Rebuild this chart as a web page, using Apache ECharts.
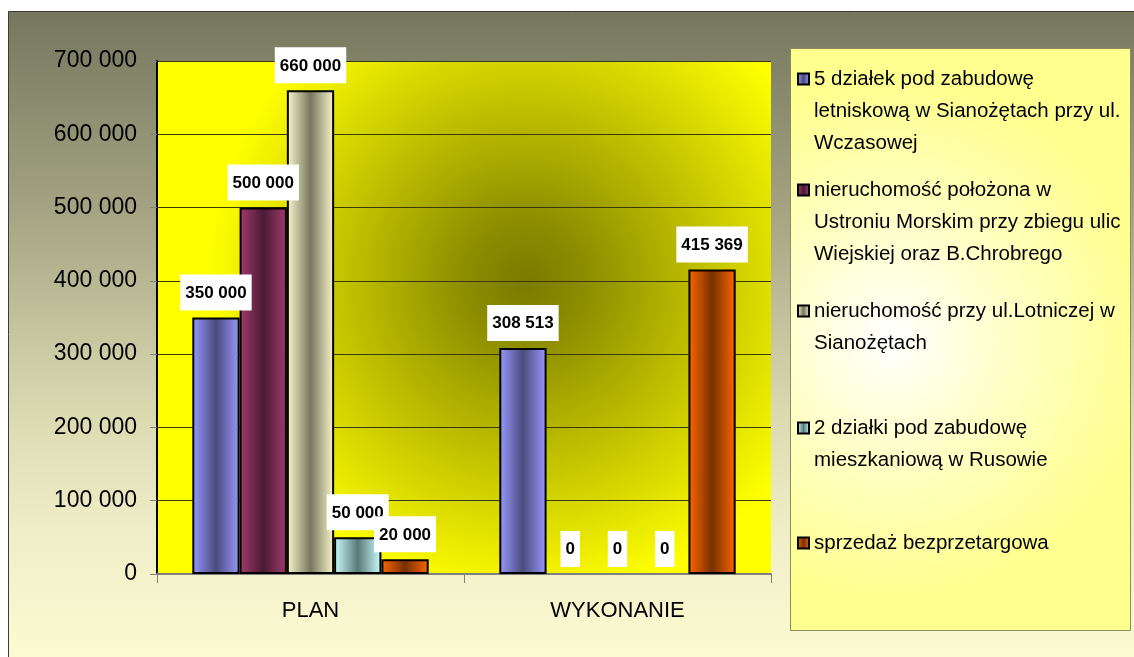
<!DOCTYPE html>
<html>
<head>
<meta charset="utf-8">
<script src="https://cdn.jsdelivr.net/npm/echarts@6/dist/echarts.min.js"></script>
<style>
html,body{margin:0;padding:0;background:#fff;}
#c{width:1134px;height:657px;}
</style>
</head>
<body>
<div id="c"></div>
<script>
// ---- data ----
const categories = ['PLAN', 'WYKONANIE'];
const seriesNames = [
  ['5 działek pod zabudowę', 'letniskową w Sianożętach przy ul.', 'Wczasowej'],
  ['nieruchomość położona w', 'Ustroniu Morskim przy zbiegu ulic', 'Wiejskiej oraz B.Chrobrego'],
  ['nieruchomość przy ul.Lotniczej w', 'Sianożętach'],
  ['2 działki pod zabudowę', 'mieszkaniową w Rusowie'],
  ['sprzedaż bezprzetargowa']
];
const valuesDzialki5 = [350000, 308513];
const valuesUstronie = [500000, 0];
const valuesLotnicza = [660000, 0];
const valuesRusowo = [50000, 0];
const valuesBezprzetargowa = [20000, 415369];
const yTicks = [0, 100000, 200000, 300000, 400000, 500000, 600000, 700000];

// ---- style ----
const FONT = '"Liberation Sans", Arial, sans-serif';
const lightC = ['#9999ff', '#a33a6e', '#fbf8cc', '#ccffff', '#ff6600'];
const darkC  = ['#4b4b7d', '#4a1a35', '#77775f', '#5a7a7a', '#783000'];
const allValues = [valuesDzialki5, valuesUstronie, valuesLotnicza, valuesRusowo, valuesBezprzetargowa];
const legendCenters = [79, 190, 311, 428, 543];
const LH = 32;

function fmt(v) { return String(v).replace(/\B(?=(\d{3})+(?!\d))/g, ' '); }

const series = allValues.map((vals, i) => ({
  name: seriesNames[i].join('\n'),
  type: 'bar',
  data: vals.map(v => v === 0 ? {value: v, itemStyle: {borderWidth: 0}} : v),
  barGap: '0%',
  barCategoryGap: '23%',
  itemStyle: {
    color: {
      type: 'linear', x: 0, y: 0, x2: 1, y2: 0,
      colorStops: [
        {offset: 0, color: lightC[i]},
        {offset: 0.5, color: darkC[i]},
        {offset: 1, color: lightC[i]}
      ]
    },
    borderColor: '#000',
    borderWidth: 2
  },
  label: {
    show: true,
    position: 'top',
    distance: 7,
    formatter: p => fmt(p.value),
    backgroundColor: '#fff',
    padding: [10, 5, 9, 5],
    color: '#000',
    fontFamily: FONT,
    fontWeight: 'bold',
    fontSize: 17
  }
}));

const legends = seriesNames.map((lines, i) => ({
  data: [lines.join('\n')],
  left: 797,
  top: legendCenters[i] - (2 * lines.length - 1) * LH / 2,
  padding: 0,
  orient: 'vertical',
  itemWidth: 11,
  itemHeight: 11,
  icon: 'rect',
  selectedMode: false,
  formatter: name => ' \n'.repeat(lines.length - 1) + name,
  textStyle: {
    fontFamily: FONT,
    fontSize: 20.5,
    lineHeight: LH,
    color: '#000'
  }
}));

const chart = echarts.init(document.getElementById('c'), null, {renderer: 'canvas'});
chart.setOption({
  animation: false,
  graphic: [
    {
      type: 'rect', z: -10, silent: true,
      shape: {x: 8.5, y: 11.5, width: 1130, height: 660},
      style: {
        fill: {type: 'linear', x: 0, y: 0, x2: 0, y2: 1, colorStops: [
          {offset: 0, color: '#76765e'},
          {offset: 0.29, color: '#a2a282'},
          {offset: 0.6, color: '#d9d9b0'},
          {offset: 0.78, color: '#efedc6'},
          {offset: 0.95, color: '#fbf9d0'},
          {offset: 1, color: '#fdfbd3'}
        ]},
        stroke: '#3c3c30', lineWidth: 1
      }
    },
    {
      type: 'rect', z: -5, silent: true,
      shape: {x: 790.5, y: 48.5, width: 340, height: 582},
      style: {
        fill: {type: 'radial', x: 0.3, y: 0.5, r: 0.75, colorStops: [
          {offset: 0, color: '#ffffff'},
          {offset: 0.45, color: '#ffffc8'},
          {offset: 1, color: '#ffff90'}
        ]},
        stroke: '#8c8c5a', lineWidth: 1
      }
    }
  ],
  grid: {
    left: 157, right: 363, top: 61, bottom: 83,
    show: true,
    borderWidth: 0,
    backgroundColor: {type: 'radial', x: 0.6, y: 0.43, r: 0.62, colorStops: [
      {offset: 0, color: '#7a7a00'},
      {offset: 0.2, color: '#8e8e00'},
      {offset: 1, color: '#ffff00'}
    ]}
  },
  legend: legends,
  xAxis: {
    type: 'category',
    data: categories,
    axisLine: {lineStyle: {color: '#808080', width: 2}},
    axisTick: {show: true, length: 9, lineStyle: {color: '#808080'}},
    axisLabel: {fontFamily: FONT, fontSize: 22, color: '#000', margin: 26}
  },
  yAxis: {
    type: 'value',
    min: yTicks[0],
    max: yTicks[yTicks.length - 1],
    interval: yTicks[1] - yTicks[0],
    axisLine: {show: true, lineStyle: {color: '#000', width: 2}},
    axisTick: {show: true, length: 7, lineStyle: {color: '#808080'}},
    splitLine: {lineStyle: {color: '#3a3a10', width: 1}},
    axisLabel: {fontFamily: FONT, fontSize: 23, color: '#000', margin: 20, formatter: v => fmt(v)}
  },
  series: series
});
</script>
</body>
</html>
